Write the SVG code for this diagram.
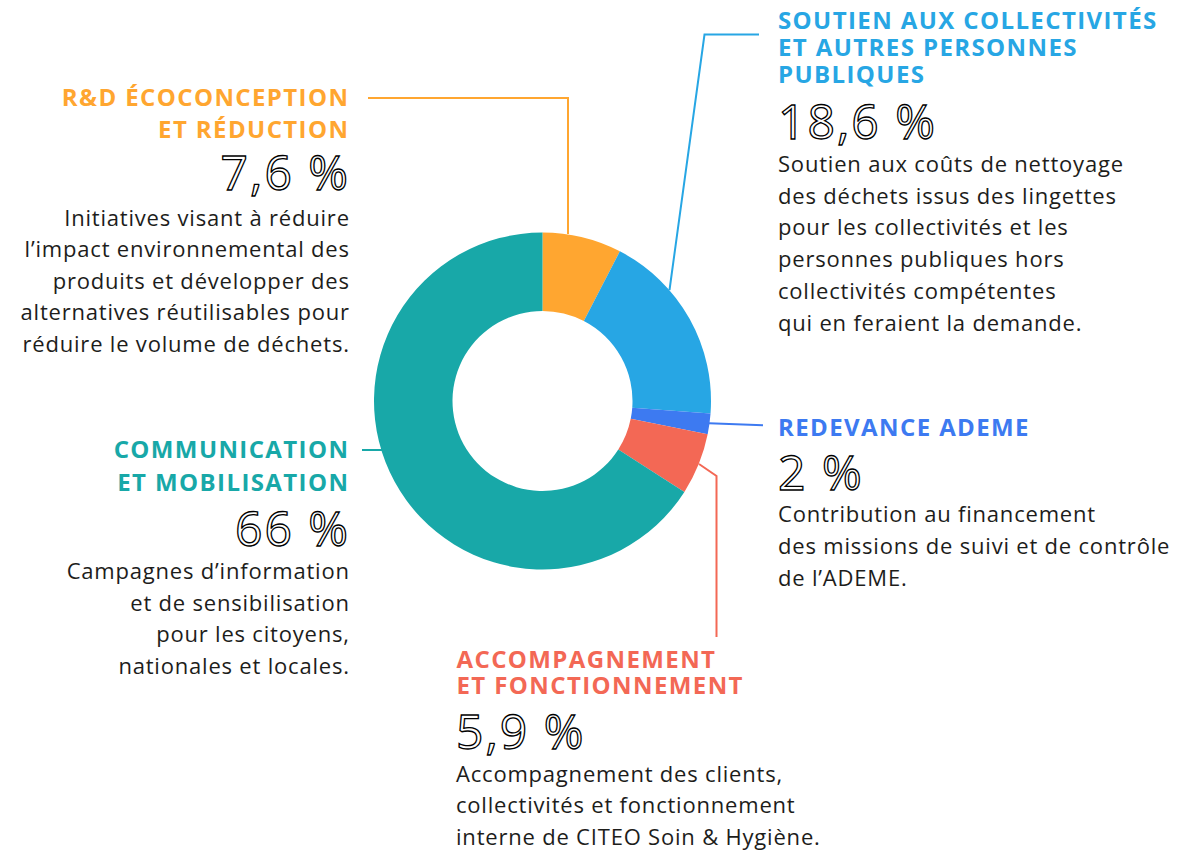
<svg xmlns="http://www.w3.org/2000/svg" width="1198" height="853" viewBox="0 0 1198 853">
<style>
.hd{font-family:"Open Sans","Liberation Sans",sans-serif;font-weight:700;font-size:24px;letter-spacing:1.4px}
.num{font-family:"Open Sans","Liberation Sans",sans-serif;font-weight:400;font-size:48px;fill:#fff;stroke:#000;stroke-width:1.3px;letter-spacing:2px}
.bd{font-family:"Open Sans","Liberation Sans",sans-serif;font-weight:400;font-size:22px;fill:#1d1d1b;letter-spacing:0.8px}
.end{text-anchor:end}
.ln{fill:none;stroke-width:2}
</style>
<rect width="1198" height="853" fill="#fff"/>
<g id="connectors">
<path class="ln" stroke="#FFA630" d="M368 98 H568 V234"/>
<path class="ln" stroke="#27A6E4" d="M669.5 290 L704.5 34.5 H759"/>
<path class="ln" stroke="#3D7AF1" d="M709 423.3 L763 425.3"/>
<path class="ln" stroke="#F36855" d="M699 464 L716.5 476 V637"/>
<path class="ln" stroke="#18A8A8" d="M362 450 H383"/>
</g>
<g id="donut">
<path fill="#FFA630" d="M542.5 232.5 A168.5 168.5 0 0 1 619.88 251.32 L583.83 321.05 A90 90 0 0 0 542.5 311 Z"/>
<path fill="#27A6E4" d="M619.88 251.32 A168.5 168.5 0 0 1 710.54 413.43 L632.26 407.64 A90 90 0 0 0 583.83 321.05 Z"/>
<path fill="#3D7AF1" d="M710.54 413.43 A168.5 168.5 0 0 1 707.66 434.36 L630.72 418.82 A90 90 0 0 0 632.26 407.64 Z"/>
<path fill="#F36855" d="M707.66 434.36 A168.5 168.5 0 0 1 684.39 491.88 L618.29 449.54 A90 90 0 0 0 630.72 418.82 Z"/>
<path fill="#18A8A8" d="M684.39 491.88 A168.5 168.5 0 1 1 542.5 232.5 L542.5 311 A90 90 0 1 0 618.29 449.54 Z"/>
</g>
<g id="node-rd">
<text class="hd end" fill="#FFA630"><tspan x="349.4" y="106">R&amp;D ÉCOCONCEPTION</tspan><tspan x="349.4" y="137.5">ET RÉDUCTION</tspan></text>
<text class="num end" x="350" y="190">7,6 %</text>
<text class="bd end"><tspan x="349.8" y="225.7">Initiatives visant à réduire</tspan><tspan x="349.8" y="257.2">l’impact environnemental des</tspan><tspan x="349.8" y="288.7">produits et développer des</tspan><tspan x="349.8" y="320.2">alternatives réutilisables pour</tspan><tspan x="349.8" y="351.7">réduire le volume de déchets.</tspan></text>
</g>
<g id="node-soutien">
<text class="hd" fill="#27A6E4"><tspan x="778" y="28.7">SOUTIEN AUX COLLECTIVITÉS</tspan><tspan x="778" y="55.7">ET AUTRES PERSONNES</tspan><tspan x="778" y="82.7">PUBLIQUES</tspan></text>
<text class="num" x="778" y="139">18,6 %</text>
<text class="bd"><tspan x="778" y="171.7">Soutien aux coûts de nettoyage</tspan><tspan x="778" y="203.5">des déchets issus des lingettes</tspan><tspan x="778" y="235.3">pour les collectivités et les</tspan><tspan x="778" y="267.1">personnes publiques hors</tspan><tspan x="778" y="298.9">collectivités compétentes</tspan><tspan x="778" y="330.7">qui en feraient la demande.</tspan></text>
</g>
<g id="node-ademe">
<text class="hd" fill="#3D7AF1" x="778" y="435.7">REDEVANCE ADEME</text>
<text class="num" x="778" y="490">2 %</text>
<text class="bd"><tspan x="778" y="522.3">Contribution au financement</tspan><tspan x="778" y="554">des missions de suivi et de contrôle</tspan><tspan x="778" y="585.7">de l’ADEME.</tspan></text>
</g>
<g id="node-communication">
<text class="hd end" fill="#18A8A8"><tspan x="349.4" y="458.3">COMMUNICATION</tspan><tspan x="349.4" y="491">ET MOBILISATION</tspan></text>
<text class="num end" x="350" y="546">66 %</text>
<text class="bd end"><tspan x="349.8" y="579.3">Campagnes d’information</tspan><tspan x="349.8" y="610.7">et de sensibilisation</tspan><tspan x="349.8" y="642.2">pour les citoyens,</tspan><tspan x="349.8" y="673.5">nationales et locales.</tspan></text>
</g>
<g id="node-accompagnement">
<text class="hd" fill="#F36855"><tspan x="456.5" y="668.3">ACCOMPAGNEMENT</tspan><tspan x="456.5" y="694.3">ET FONCTIONNEMENT</tspan></text>
<text class="num" x="456" y="749">5,9 %</text>
<text class="bd"><tspan x="456" y="781.7">Accompagnement des clients,</tspan><tspan x="456" y="813">collectivités et fonctionnement</tspan><tspan x="456" y="844.5">interne de CITEO Soin &amp; Hygiène.</tspan></text>
</g>
</svg>
